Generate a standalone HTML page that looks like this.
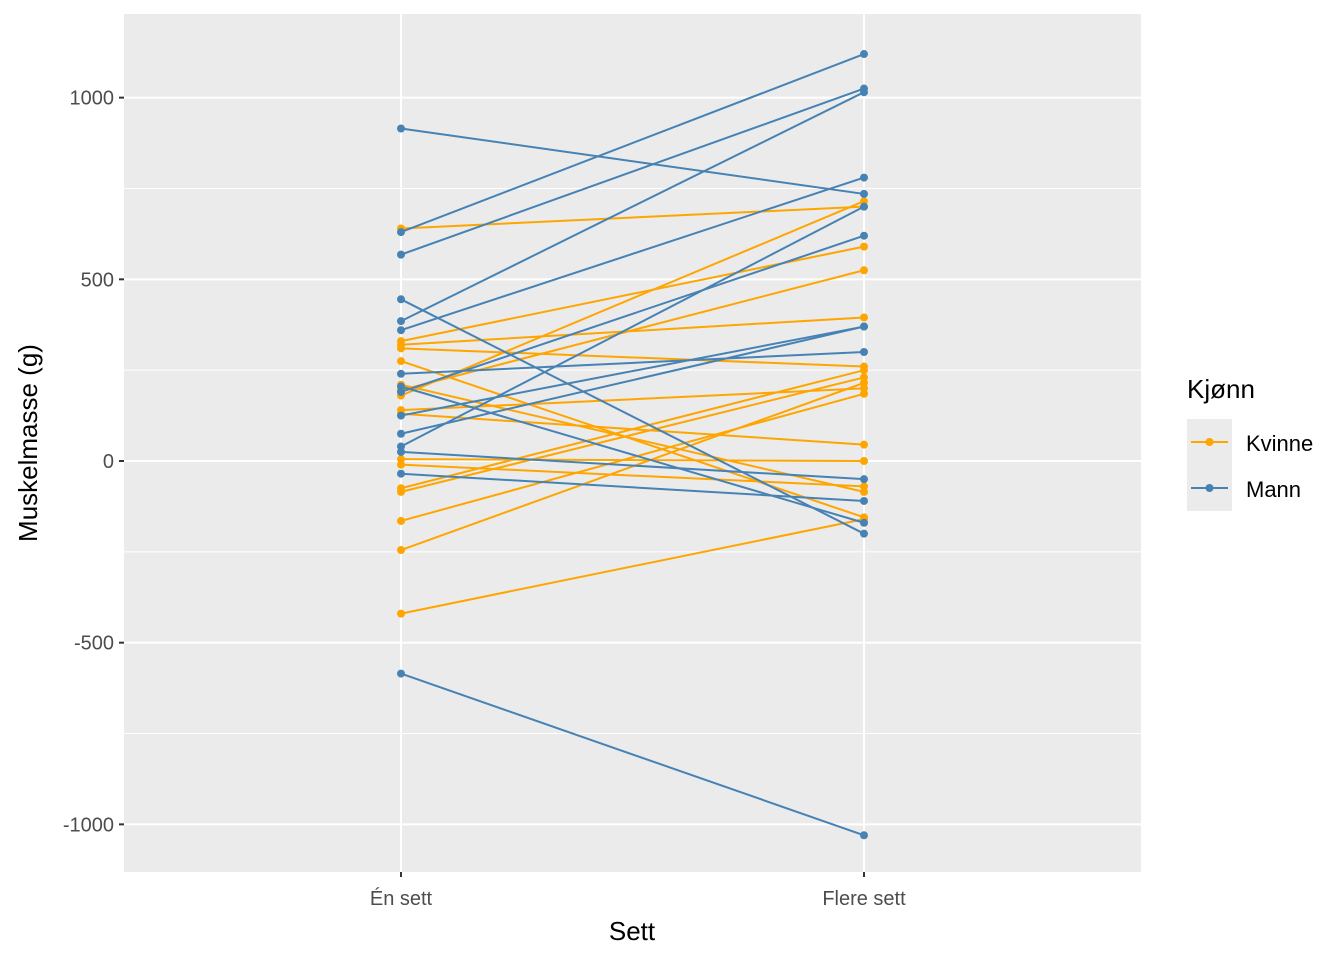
<!DOCTYPE html>
<html><head><meta charset="utf-8"><style>
body{margin:0;background:#fff}
svg text{font-family:"Liberation Sans",sans-serif}
</style></head><body>
<svg id="c" width="1344" height="960">
<rect x="124" y="14" width="1017" height="858" fill="#ebebeb"/>
<g id="grid"></g><g id="marks"></g><g id="axes"></g>
<text x="632" y="940" font-size="26" text-anchor="middle">Sett</text>
<text transform="translate(37,443) rotate(-90)" font-size="26" text-anchor="middle">Muskelmasse (g)</text>
<g>
<text x="1187" y="398" font-size="26">Kjønn</text>
<rect x="1187" y="419" width="45" height="46" fill="#ebebeb"/>
<rect x="1187" y="465" width="45" height="46" fill="#ebebeb"/>
<line x1="1191" x2="1228" y1="442" y2="442" stroke="#FFA500" stroke-width="2"/>
<circle cx="1209.5" cy="442" r="4" fill="#FFA500"/>
<line x1="1191" x2="1228" y1="488" y2="488" stroke="#4682B4" stroke-width="2"/>
<circle cx="1209.5" cy="488" r="4" fill="#4682B4"/>
<text x="1246" y="451" font-size="22">Kvinne</text>
<text x="1246" y="497" font-size="22">Mann</text>
</g>
</svg>
<script>
const categories=["Én sett","Flere sett"];
const yTicks=[1000,500,0,-500,-1000];
const yTickLabels=["1000","500","0","-500","-1000"];
const mannStart=[915,630,568,385,360,445,240,205,190,125,75,40,25,-35,-585];
const mannEnd=[735,1120,1025,1015,780,-200,300,-170,620,370,370,700,-50,-110,-1030];
const kvinneStart=[640,330,320,310,275,210,195,180,140,130,5,-10,-75,-85,-165,-245,-420];
const kvinneEnd=[700,590,395,260,-155,-85,525,715,200,45,0,-70,250,230,185,215,-160];
const NS="http://www.w3.org/2000/svg";
const y=v=>461-v*0.36336;
const x=i=>401+i*463;
function mk(t,a,p){const e=document.createElementNS(NS,t);for(const k in a)e.setAttribute(k,a[k]);document.getElementById(p).appendChild(e);return e;}
// minor grid
for(let v=-750;v<=750;v+=500){const l=mk('line',{x1:124,x2:1141,y1:y(v),y2:y(v),stroke:'#fff','stroke-width':1},'grid');

}
yTicks.forEach((v,i)=>{const l=mk('line',{x1:124,x2:1141,y1:y(v),y2:y(v),stroke:'#fff','stroke-width':2},'grid');


const t=mk('line',{x1:119,x2:124,y1:y(v),y2:y(v),stroke:'#333','stroke-width':2},'axes');


const tx=mk('text',{x:114,y:y(v)+7,'font-size':20,fill:'#4d4d4d','text-anchor':'end'},'axes');tx.textContent=yTickLabels[i];

});
categories.forEach((c,i)=>{const l=mk('line',{x1:x(i),x2:x(i),y1:14,y2:872,stroke:'#fff','stroke-width':2},'grid');


const t=mk('line',{x1:x(i),x2:x(i),y1:872,y2:877,stroke:'#333','stroke-width':2},'axes');


const tx=mk('text',{x:x(i),y:905,'font-size':20,fill:'#4d4d4d','text-anchor':'middle'},'axes');tx.textContent=c;

});
function series(s,e,col,name){s.forEach((v,i)=>{const l=mk('line',{x1:x(0),x2:x(1),y1:y(v),y2:y(e[i]),stroke:col,'stroke-width':2},'marks');


[[0,v],[1,e[i]]].forEach(([k,val])=>{const c=mk('circle',{cx:x(k),cy:y(val),r:4,fill:col},'marks');

});});}
series(kvinneStart,kvinneEnd,'#FFA500','kvinne');
series(mannStart,mannEnd,'#4682B4','mann');
</script>
</body></html>
